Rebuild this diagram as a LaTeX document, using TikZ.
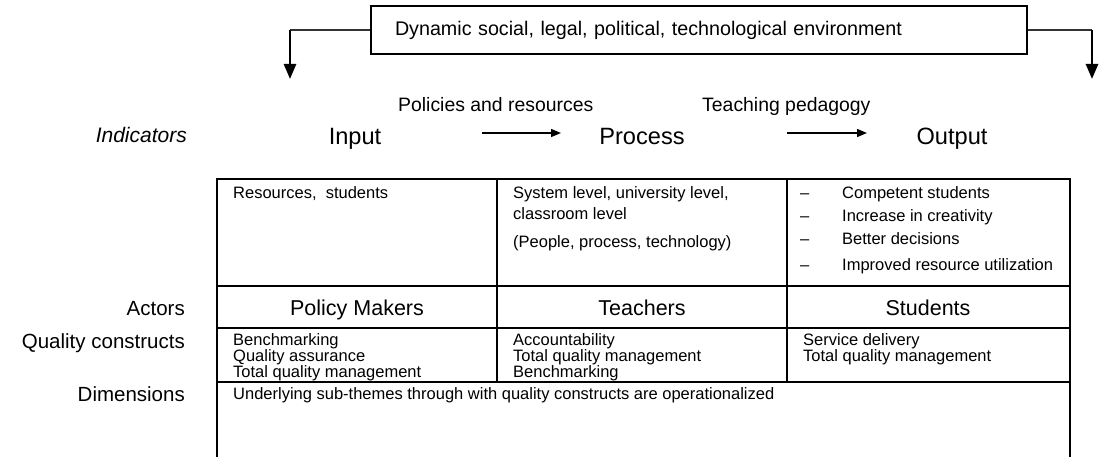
\documentclass[tikz,border=0pt]{standalone}
\usepackage{fontspec}
\setmainfont{Liberation Sans}
\usetikzlibrary{arrows.meta}

\newcommand{\fs}[1]{\fontsize{#1}{#1}\selectfont}

\begin{document}
\begin{tikzpicture}[x=1pt,y=-1pt,
  txt/.style={inner sep=0pt,font=\fs{16.5},anchor=base west},
  cell/.style={inner sep=0pt,anchor=north west,align=left,font=\fontsize{16.5}{16}\selectfont},
  head/.style={inner sep=0pt,font=\fs{23.6},anchor=base},
  sidelab/.style={inner sep=0pt,font=\fs{20.5},anchor=base east},
  actor/.style={inner sep=0pt,font=\fs{21.5},anchor=base},
  small/.style={inner sep=0pt,font=\fs{19.4},anchor=base west},
  grid/.style={line width=1.8pt},
  flow/.style={line width=1.4pt,-{Triangle[length=10pt,width=8pt]}},
  thinline/.style={line width=1.2pt,draw=black!80},
  envarrow/.style={line width=2.6pt,-{Triangle[length=15pt,width=12pt]}},
  envbox/.style={draw,line width=1.6pt,minimum width=656pt,minimum height=48pt,
    text width=608pt,inner xsep=24pt,inner ysep=0pt,align=left,font=\fs{19.7}}
]
\useasboundingbox (0,0) rectangle (1102,457);

% environment box and its two downward arrows
\node[envbox] (env) at (699,30) {Dynamic social, legal, political, technological environment};
\coordinate (envLc) at (290,30);
\coordinate (envL) at (290,79);
\coordinate (envRc) at (1092,30);
\coordinate (envR) at (1092,79);
\draw[thinline] (env.west) -- (envLc);
\draw[envarrow] (envLc) -- (envL);
\draw[thinline] (env.east) -- (envRc);
\draw[envarrow] (envRc) -- (envR);

% indicator row
\node[inner sep=0pt,font=\fs{21}\itshape,anchor=base east] (ind) at (187,143) {Indicators};
\node[head] (input) at (355,145) {Input};
\node[head] (process) at (642,145) {Process};
\node[head] (output) at (952,145) {Output};
\node[small] (pol) at (398,112) {Policies and resources};
\node[small] (ped) at (702,112) {Teaching pedagogy};
\coordinate (a1s) at (482,133);
\coordinate (a1e) at (561,133);
\coordinate (a2s) at (787,133);
\coordinate (a2e) at (867,133);
\draw[flow] (a1s) -- (a1e);
\draw[flow] (a2s) -- (a2e);

% table grid (open at the bottom)
\draw[grid] (217,457) -- (217,179) -- (1070,179) -- (1070,457);
\draw[grid] (217,286) -- (1070,286);
\draw[grid] (217,328) -- (1070,328);
\draw[grid] (217,382) -- (1070,382);
\draw[grid] (497,179) -- (497,382);
\draw[grid] (787,179) -- (787,382);

% first row
\node[txt] (c11) at (233,199) {Resources,\ \ students};
\node[txt] (c12a) at (513,199) {System level, university level,};
\node[txt] (c12b) at (513,219) {classroom level};
\node[txt] (c12c) at (513,247) {(People, process, technology)};
\node[txt] (c13a) at (800,199) {\makebox[42pt][l]{–}Competent students};
\node[txt] (c13b) at (800,221) {\makebox[42pt][l]{–}Increase in creativity};
\node[txt] (c13c) at (800,244) {\makebox[42pt][l]{–}Better decisions};
\node[txt] (c13d) at (800,270) {\makebox[42pt][l]{–}Improved resource utilization};

% actors row
\node[sidelab] (lact) at (185,315) {Actors};
\node[actor] (pm) at (357,315) {Policy Makers};
\node[actor] (tch) at (642,315) {Teachers};
\node[actor] (stu) at (928,315) {Students};

% quality constructs row
\node[sidelab] (lqc) at (185,348) {Quality constructs};
\node[cell] (q1) at (233,333) {Benchmarking\\Quality assurance\\Total quality management};
\node[cell] (q2) at (513,333) {Accountability\\Total quality management\\Benchmarking};
\node[cell] (q3) at (803,333) {Service delivery\\Total quality management};

% dimensions row
\node[sidelab] (ldim) at (185,401) {Dimensions};
\node[txt] (dim) at (233,399) {Underlying sub-themes through with quality constructs are operationalized};
\end{tikzpicture}
\end{document}
